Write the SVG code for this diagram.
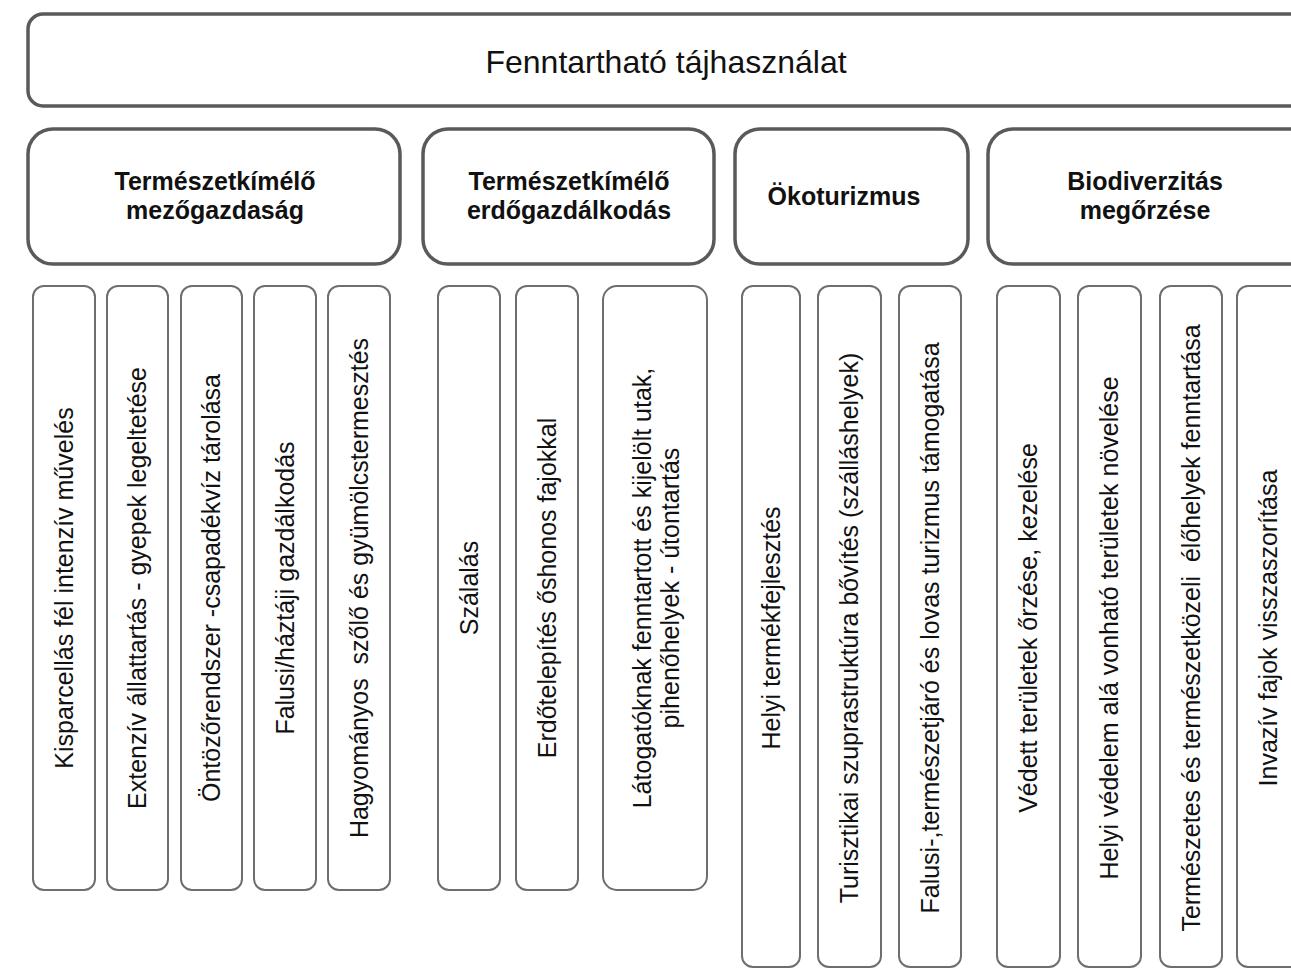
<svg xmlns="http://www.w3.org/2000/svg" width="1291" height="969" viewBox="0 0 1291 969">
<style>
.big{fill:#fff;stroke:#5a5a5a;stroke-width:3.5}
.col{fill:#fff;stroke:#6e6e6e;stroke-width:2}
.t{font-family:"Liberation Sans",Arial,sans-serif;fill:#111;text-anchor:middle}
.title{font-size:32px}
.h{font-size:25px;font-weight:bold}
.v{font-size:25px}
</style>
<rect width="1291" height="969" fill="#fff"/>
<g id="root">
<rect class="big" x="28" y="14" width="1300" height="92" rx="15"/>
<text class="t title" x="666" y="73">Fenntartható tájhasználat</text>
</g>
<g id="cat-mezo">
<rect class="big" x="28" y="129" width="372" height="135" rx="25"/>
<text class="t h" x="215" y="190">Természetkímélő</text>
<text class="t h" x="215" y="219">mezőgazdaság</text>
</g>
<g id="cat-erdo">
<rect class="big" x="423" y="129" width="291" height="135" rx="25"/>
<text class="t h" x="569" y="190">Természetkímélő</text>
<text class="t h" x="569" y="219">erdőgazdálkodás</text>
</g>
<g id="cat-oko">
<rect class="big" x="735" y="129" width="233" height="135" rx="25"/>
<text class="t h" x="844" y="205">Ökoturizmus</text>
</g>
<g id="cat-bio">
<rect class="big" x="988" y="129" width="330" height="135" rx="25"/>
<text class="t h" x="1145" y="190">Biodiverzitás</text>
<text class="t h" x="1145" y="219">megőrzése</text>
</g>
<g id="m1"><rect class="col" x="33" y="286" width="62" height="604" rx="11"/><text class="t v" transform="translate(73,588) rotate(-90)">Kisparcellás fél intenzív művelés</text></g>
<g id="m2"><rect class="col" x="107" y="286" width="61" height="604" rx="11"/><text class="t v" transform="translate(146,588) rotate(-90)">Extenzív állattartás - gyepek legeltetése</text></g>
<g id="m3"><rect class="col" x="181" y="286" width="61" height="604" rx="11"/><text class="t v" transform="translate(220,588) rotate(-90)">Öntözőrendszer -csapadékvíz tárolása</text></g>
<g id="m4"><rect class="col" x="254" y="286" width="62" height="604" rx="11"/><text class="t v" transform="translate(294,588) rotate(-90)">Falusi/háztáji gazdálkodás</text></g>
<g id="m5"><rect class="col" x="328" y="286" width="62" height="604" rx="11"/><text class="t v" transform="translate(368,588) rotate(-90)" xml:space="preserve">Hagyományos  szőlő és gyümölcstermesztés</text></g>
<g id="e1"><rect class="col" x="438" y="286" width="62" height="604" rx="11"/><text class="t v" transform="translate(478,588) rotate(-90)">Szálalás</text></g>
<g id="e2"><rect class="col" x="516" y="286" width="62" height="604" rx="11"/><text class="t v" transform="translate(556,588) rotate(-90)">Erdőtelepítés őshonos fajokkal</text></g>
<g id="e3"><rect class="col" x="603" y="286" width="104" height="604" rx="14"/><text class="t v" transform="translate(655,588) rotate(-90)"><tspan x="0" y="-4">Látogatóknak fenntartott és kijelölt utak,</tspan><tspan x="0" y="24">pihenőhelyek - útontartás</tspan></text></g>
<g id="o1"><rect class="col" x="742" y="286" width="58" height="681" rx="11"/><text class="t v" transform="translate(780,628) rotate(-90)">Helyi termékfejlesztés</text></g>
<g id="o2"><rect class="col" x="818" y="286" width="63" height="681" rx="11"/><text class="t v" transform="translate(858,628) rotate(-90)">Turisztikai szuprastruktúra bővítés (szálláshelyek)</text></g>
<g id="o3"><rect class="col" x="899" y="286" width="62" height="681" rx="11"/><text class="t v" transform="translate(939,628) rotate(-90)">Falusi-,természetjáró és lovas turizmus támogatása</text></g>
<g id="b1"><rect class="col" x="997" y="286" width="63" height="681" rx="11"/><text class="t v" transform="translate(1037,628) rotate(-90)">Védett területek őrzése, kezelése</text></g>
<g id="b2"><rect class="col" x="1078" y="286" width="63" height="681" rx="11"/><text class="t v" transform="translate(1118,628) rotate(-90)">Helyi védelem alá vonható területek növelése</text></g>
<g id="b3"><rect class="col" x="1160" y="286" width="62" height="681" rx="11"/><text class="t v" transform="translate(1200,628) rotate(-90)" xml:space="preserve">Természetes és természetközeli  élőhelyek fenntartása</text></g>
<g id="b4"><rect class="col" x="1237" y="286" width="64" height="681" rx="11"/><text class="t v" transform="translate(1277,628) rotate(-90)">Invazív fajok visszaszorítása</text></g>
<g id="connectors"></g>
</svg>
